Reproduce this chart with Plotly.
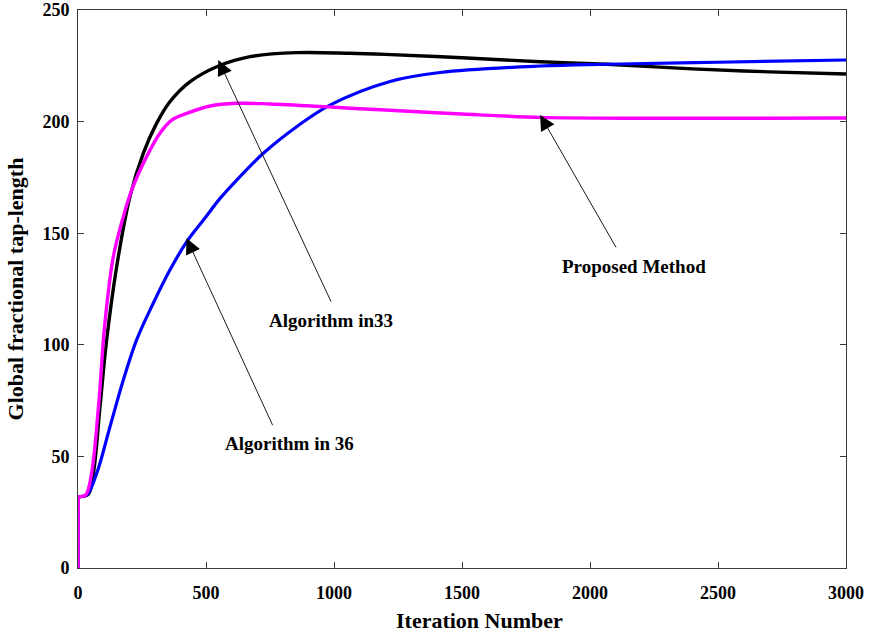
import plotly.graph_objects as go

# Iteration samples and tap-length values for each algorithm
iter_alg33 = [0, 1, 40, 60, 86, 112, 151, 203, 255, 307, 359, 438, 542, 672, 854, 1063,
              1200, 1500, 1805, 2066, 2400, 2700, 3000]
len_alg33 = [0, 32, 33, 42.4, 72.3, 102.2, 135, 166.4, 185.8, 199.2, 208.9, 217.9, 224.6, 229.1, 230.9, 230.6,
             230.1, 228.6, 226.8, 225.7, 223.6, 222.3, 221.3]

iter_alg36 = [0, 1, 34, 73, 125, 177, 229, 294, 359, 425, 490, 555, 620, 724, 854, 984,
              1219, 1414, 1805, 2066, 2500, 3000]
len_alg36 = [0, 32, 32.7, 42.4, 63.3, 84.2, 102.2, 118.6, 133.5, 146.2, 155.9, 165.6, 173.8, 185.8, 197.7, 207.4,
             218, 222, 224.9, 225.7, 226.6, 227.6]

iter_prop = [0, 1, 30, 53, 80, 105, 138, 177, 210, 268, 320, 366, 425, 516, 620, 750, 958, 1063,
             1200, 1500, 1805, 2200, 2600, 3000]
len_prop = [0, 32, 32.7, 42.4, 72.3, 109.6, 139.5, 157.4, 169.4, 184.3, 194.8, 200.7, 203.7, 207, 208.2, 207.9, 206.7, 206,
            205.2, 203.4, 201.9, 201.5, 201.5, 201.6]

series = [
    ("Algorithm in33", iter_alg33, len_alg33, "#000000", 3.4),
    ("Algorithm in 36", iter_alg36, len_alg36, "#0000ff", 3.2),
    ("Proposed Method", iter_prop, len_prop, "#ff00ff", 3.4),
]

fig = go.Figure()
for name, xs, ys, color, w in series:
    # initial jump at iteration 0 drawn straight, remainder smoothed
    fig.add_trace(go.Scatter(x=xs[:2], y=ys[:2], mode="lines", name=name,
                             line=dict(color=color, width=w), showlegend=False))
    fig.add_trace(go.Scatter(x=xs[1:], y=ys[1:], mode="lines", name=name,
                             line=dict(color=color, width=w, shape="spline", smoothing=1.0),
                             showlegend=False))

serif = "Liberation Serif"
label_font = dict(family=serif, size=19, color="#000000", weight="bold")

# arrows: (tip x, tip y, tail x, tail y), labels placed below the tails
arrows = [
    (548, 227.6, 991, 118.7),
    (424, 147.7, 763, 63.3),
    (1805, 203, 2105, 143),
]
labels = [
    ("Algorithm in33", 990, 111),
    ("Algorithm in 36", 826, 56),
    ("Proposed Method", 2172, 135),
]
for tx, ty, ax, ay in arrows:
    fig.add_annotation(x=tx, y=ty, ax=ax, ay=ay, xref="x", yref="y", axref="x", ayref="y",
                       text="", showarrow=True, arrowhead=2, arrowsize=3.4, arrowwidth=0.9,
                       arrowcolor="#000000")
for txt, lx, ly in labels:
    fig.add_annotation(x=lx, y=ly, xref="x", yref="y", text=txt, showarrow=False,
                       font=label_font)

axis_common = dict(
    showline=True, linecolor="#3a3a3a", linewidth=1, mirror="ticks",
    ticks="inside", ticklen=6, tickcolor="#3a3a3a", tickwidth=1,
    showgrid=False, zeroline=False, automargin=False,
    tickfont=dict(family=serif, size=18, color="#000000", weight="bold"),
)

title_font = dict(family=serif, size=22, color="#000000", weight="bold")

fig.update_xaxes(range=[0, 3000], tickvals=[0, 500, 1000, 1500, 2000, 2500, 3000],
                 ticklabelstandoff=8, **axis_common)
fig.update_yaxes(range=[0, 250], tickvals=[0, 50, 100, 150, 200, 250],
                 title=dict(text="Global fractional tap-length", standoff=12, font=title_font),
                 ticklabelstandoff=4, **axis_common)

fig.update_layout(
    width=875, height=635,
    margin=dict(l=78, r=29, t=10, b=67),
    paper_bgcolor="#ffffff", plot_bgcolor="#ffffff",
    showlegend=False,
)

# x-axis caption, positioned in paper fractions of the plotting area
plot_w = 875 - 78 - 29
plot_h = 635 - 10 - 67
fig.add_annotation(x=(479 - 78) / plot_w, y=(635 - 67 - 620) / plot_h,
                   xref="paper", yref="paper", text="Iteration Number",
                   showarrow=False, font=title_font, xanchor="center", yanchor="middle")

fig.write_html("out.html")
